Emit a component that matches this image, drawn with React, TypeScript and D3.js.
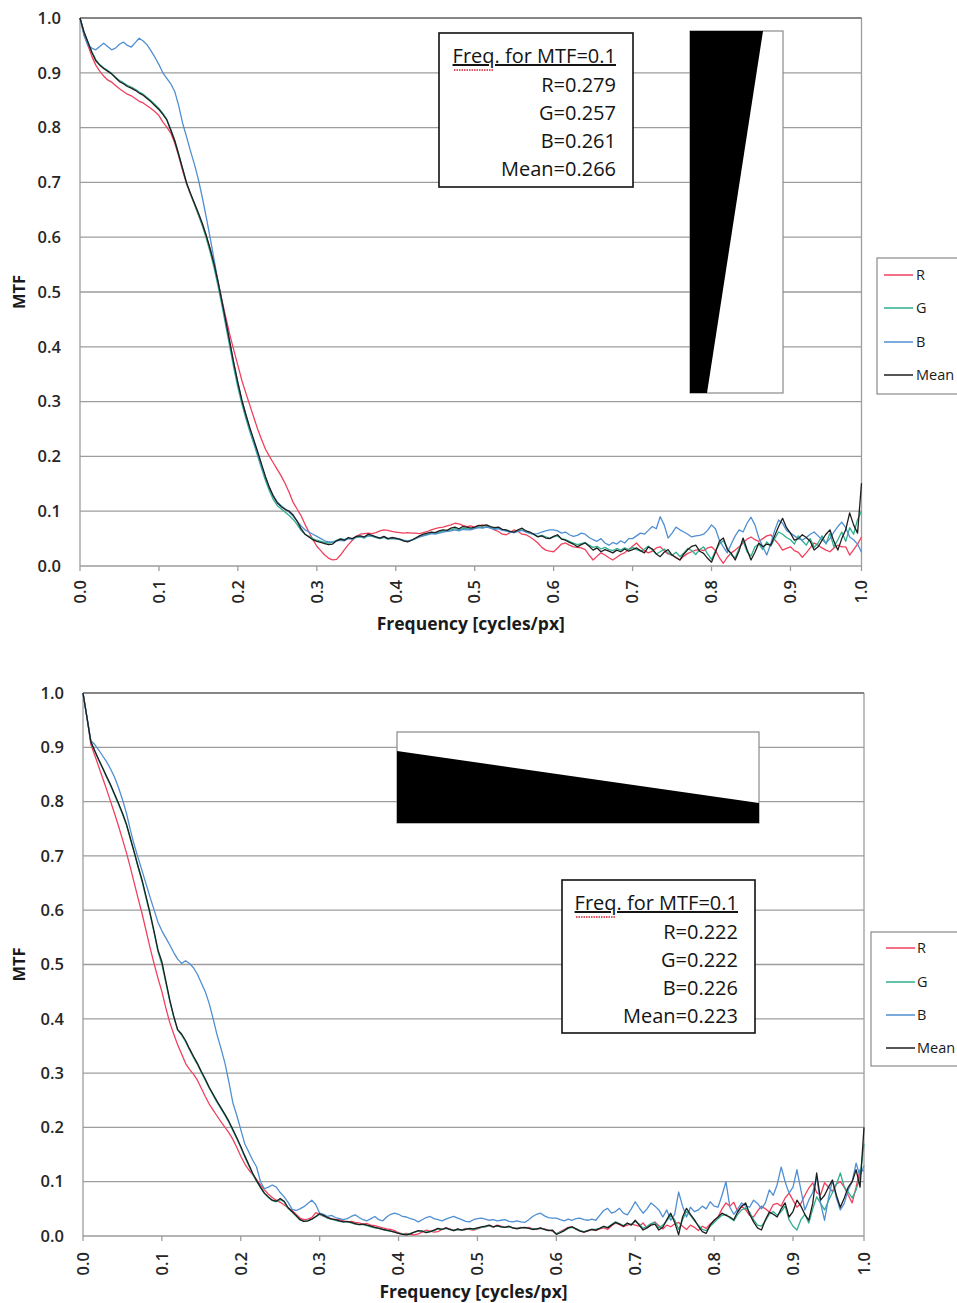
import React from 'react';
import * as d3 from 'd3';

// ---------- shared axis data ----------
const FREQ_STEP = 0.005; // cycles/px between samples
const X_MAX = 0.99;
const X_TICK_VALUES = [0, 0.1, 0.2, 0.3, 0.4, 0.5, 0.6, 0.7, 0.8, 0.9, 0.99];
const X_TICK_LABELS = ['0.0', '0.1', '0.2', '0.3', '0.4', '0.5', '0.6', '0.7', '0.8', '0.9', '1.0'];
const Y_TICK_VALUES = [0, 0.1, 0.2, 0.3, 0.4, 0.5, 0.6, 0.7, 0.8, 0.9, 1.0];
const Y_TICK_LABELS = ['0.0', '0.1', '0.2', '0.3', '0.4', '0.5', '0.6', '0.7', '0.8', '0.9', '1.0'];
const SERIES_NAMES = ['R', 'G', 'B', 'Mean'];

// ---------- top chart (MTF samples every 0.005 cycles/px) ----------
const TOP_R = [
  1.000, .972, .950, .930, .914, .903, .894, .887, .883, .877, .871, .866, .861, .858, .853, .848, .845, .840, .835, .829,
  .822, .810, .801, .790, .772, .748, .721, .697, .678, .660, .641, .622, .601, .578, .550, .517, .484, .452, .421, .393,
  .366, .339, .316, .294, .272, .250, .231, .213, .200, .188, .176, .164, .150, .134, .116, .104, .092, .076, .062, .048,
  .036, .028, .020, .014, .011, .012, .020, .030, .039, .047, .054, .058, .059, .060, .059, .061, .064, .066, .065, .063,
  .062, .061, .060, .061, .060, .060, .059, .061, .063, .066, .068, .070, .071, .073, .075, .078, .077, .074, .072, .073,
  .071, .073, .075, .073, .070, .066, .063, .058, .057, .061, .066, .063, .058, .057, .053, .048, .042, .034, .029, .027,
  .026, .033, .040, .042, .038, .035, .034, .033, .030, .020, .011, .018, .024, .020, .015, .011, .016, .021, .024, .030,
  .036, .042, .034, .028, .024, .027, .033, .035, .028, .022, .020, .016, .011, .018, .023, .026, .029, .030, .028, .033,
  .035, .028, .015, .005, .016, .024, .029, .035, .042, .049, .053, .048, .045, .050, .055, .057, .048, .040, .029, .032,
  .035, .028, .025, .016, .024, .033, .042, .038, .033, .029, .026, .033, .038, .035, .035, .020, .030, .040, .053,
];
const TOP_G = [
  1.000, .975, .957, .939, .924, .915, .909, .904, .899, .892, .886, .882, .877, .874, .870, .865, .861, .855, .849, .842,
  .835, .826, .815, .797, .777, .752, .725, .699, .679, .660, .641, .621, .598, .572, .543, .510, .474, .436, .398, .360,
  .326, .296, .270, .246, .224, .201, .178, .156, .137, .121, .110, .104, .098, .092, .085, .076, .065, .058, .054, .050,
  .047, .045, .043, .042, .043, .047, .050, .048, .051, .049, .052, .053, .051, .055, .054, .052, .050, .052, .049, .050,
  .049, .048, .046, .045, .047, .050, .053, .056, .058, .060, .060, .062, .064, .063, .066, .068, .066, .069, .068, .067,
  .069, .071, .070, .072, .070, .068, .069, .066, .064, .062, .061, .064, .066, .062, .060, .057, .054, .056, .053, .051,
  .053, .055, .050, .048, .045, .042, .039, .041, .043, .038, .034, .036, .031, .034, .030, .028, .032, .029, .033, .030,
  .034, .030, .027, .031, .036, .029, .022, .026, .031, .024, .019, .025, .017, .024, .032, .028, .021, .030, .035, .022,
  .012, .028, .040, .046, .033, .020, .015, .032, .046, .026, .018, .035, .040, .030, .044, .036, .050, .062, .058, .052,
  .048, .040, .055, .046, .038, .050, .034, .042, .055, .040, .060, .035, .048, .062, .045, .070, .058, .085, .100,
];
const TOP_B = [
  1.000, .968, .950, .945, .942, .948, .954, .948, .942, .945, .952, .956, .950, .947, .955, .963, .958, .951, .940, .928,
  .915, .900, .890, .880, .866, .840, .808, .783, .757, .733, .705, .672, .636, .598, .558, .518, .480, .442, .405, .369,
  .335, .303, .276, .251, .228, .205, .182, .161, .143, .128, .117, .110, .104, .098, .091, .082, .073, .066, .062, .058,
  .054, .050, .046, .044, .044, .046, .047, .046, .050, .049, .053, .054, .052, .056, .055, .053, .051, .053, .050, .051,
  .050, .049, .047, .046, .047, .050, .053, .055, .057, .059, .058, .060, .062, .063, .064, .066, .064, .067, .066, .066,
  .068, .070, .069, .071, .069, .067, .068, .065, .064, .062, .061, .063, .065, .062, .060, .058, .059, .062, .064, .066,
  .066, .064, .060, .062, .057, .054, .056, .060, .058, .052, .048, .045, .050, .042, .038, .043, .040, .046, .042, .050,
  .050, .055, .060, .058, .065, .072, .068, .090, .075, .051, .060, .071, .066, .062, .058, .053, .055, .056, .058, .065,
  .075, .068, .047, .035, .024, .040, .055, .066, .062, .078, .089, .075, .051, .035, .020, .040, .065, .084, .078, .065,
  .060, .055, .050, .047, .052, .058, .062, .055, .048, .042, .050, .062, .072, .080, .070, .053, .048, .040, .025,
];
const TOP_MEAN = [
  1.000, .975, .956, .937, .922, .914, .908, .903, .898, .891, .884, .880, .875, .872, .868, .863, .859, .853, .847, .840,
  .833, .824, .814, .795, .776, .751, .725, .699, .680, .662, .644, .625, .603, .578, .550, .518, .482, .445, .407, .369,
  .334, .303, .277, .253, .231, .209, .186, .163, .143, .127, .115, .108, .103, .100, .093, .082, .068, .058, .053, .048,
  .045, .043, .041, .039, .040, .046, .049, .047, .052, .050, .054, .055, .053, .058, .056, .053, .051, .054, .050, .052,
  .051, .049, .046, .044, .047, .051, .055, .058, .060, .062, .061, .064, .066, .065, .069, .071, .068, .072, .071, .069,
  .071, .074, .073, .075, .072, .070, .071, .067, .066, .063, .062, .066, .069, .064, .062, .058, .053, .055, .051, .050,
  .054, .057, .049, .047, .043, .040, .035, .039, .042, .036, .029, .033, .026, .030, .027, .024, .029, .026, .031, .027,
  .030, .033, .028, .024, .035, .031, .022, .017, .025, .030, .020, .015, .011, .022, .030, .036, .038, .027, .023, .014,
  .007, .025, .045, .051, .030, .023, .011, .028, .051, .030, .011, .025, .042, .035, .040, .038, .055, .072, .087, .070,
  .060, .047, .050, .057, .052, .045, .029, .035, .047, .058, .066, .045, .029, .050, .066, .097, .075, .060, .151,
];
const TOP_INFO = ['R=0.279', 'G=0.257', 'B=0.261', 'Mean=0.266'];

// ---------- bottom chart ----------
const BOT_R = [
  1.000, .955, .905, .885, .864, .843, .822, .800, .778, .755, .731, .706, .679, .650, .621, .593, .562, .531, .502, .475,
  .450, .420, .393, .372, .352, .335, .318, .307, .298, .287, .272, .257, .243, .232, .221, .210, .200, .190, .178, .163,
  .147, .133, .122, .113, .104, .094, .085, .077, .071, .066, .062, .057, .052, .047, .040, .033, .030, .031, .034, .043,
  .040, .036, .034, .032, .030, .030, .028, .026, .027, .025, .024, .022, .023, .020, .019, .017, .015, .013, .012, .010,
  .006, .004, .005, .003, .002, .004, .007, .011, .009, .007, .008, .012, .015, .013, .010, .012, .011, .014, .012, .011,
  .013, .016, .017, .019, .016, .020, .018, .016, .017, .015, .014, .016, .015, .016, .013, .012, .014, .013, .011, .009,
  .004, .008, .012, .016, .017, .012, .010, .007, .009, .012, .010, .013, .015, .012, .019, .024, .021, .017, .020, .022,
  .020, .018, .024, .015, .022, .026, .019, .013, .020, .017, .022, .025, .018, .012, .020, .016, .010, .018, .014, .022,
  .028, .035, .050, .061, .055, .062, .044, .055, .048, .038, .035, .046, .055, .050, .044, .058, .060, .055, .070, .079,
  .066, .053, .060, .075, .088, .098, .080, .076, .098, .090, .082, .096, .100, .090, .075, .061, .090, .122, .120,
];
const BOT_G = [
  1.000, .955, .910, .893, .876, .861, .845, .829, .812, .795, .777, .757, .731, .705, .678, .652, .622, .592, .559, .524,
  .500, .466, .432, .403, .379, .370, .358, .343, .329, .316, .301, .287, .272, .259, .246, .234, .222, .209, .194, .179,
  .163, .146, .130, .114, .101, .089, .078, .071, .065, .063, .067, .063, .051, .044, .037, .030, .027, .028, .031, .035,
  .040, .037, .033, .031, .029, .027, .026, .026, .024, .022, .021, .021, .019, .017, .015, .014, .012, .010, .009, .007,
  .005, .004, .003, .005, .007, .009, .009, .007, .008, .010, .013, .012, .014, .012, .011, .012, .011, .013, .013, .012,
  .014, .016, .017, .019, .017, .018, .017, .016, .017, .015, .014, .015, .015, .014, .013, .013, .014, .012, .011, .010,
  .004, .007, .010, .014, .016, .013, .010, .008, .010, .012, .012, .014, .017, .016, .021, .026, .023, .019, .023, .021,
  .027, .022, .014, .018, .023, .025, .015, .020, .028, .038, .030, .012, .030, .045, .038, .028, .020, .012, .010, .018,
  .025, .032, .038, .040, .033, .028, .040, .048, .052, .044, .030, .020, .018, .028, .040, .045, .038, .045, .055, .030,
  .018, .011, .030, .040, .024, .050, .072, .060, .048, .065, .080, .095, .116, .090, .081, .070, .085, .110, .170,
];
const BOT_B = [
  1.000, .955, .912, .905, .895, .884, .873, .860, .845, .826, .804, .779, .748, .720, .696, .672, .648, .624, .601, .578,
  .562, .549, .536, .522, .510, .502, .507, .502, .494, .482, .466, .450, .428, .400, .370, .345, .318, .283, .245, .222,
  .196, .170, .155, .140, .127, .100, .087, .090, .094, .090, .080, .072, .062, .049, .047, .050, .054, .060, .066, .058,
  .042, .040, .036, .038, .034, .032, .030, .032, .036, .039, .034, .030, .028, .032, .036, .030, .028, .035, .040, .042,
  .040, .036, .035, .032, .030, .026, .030, .034, .036, .032, .030, .028, .031, .034, .036, .033, .030, .027, .026, .030,
  .032, .033, .031, .029, .030, .028, .029, .030, .027, .026, .028, .026, .025, .030, .036, .040, .042, .037, .034, .033,
  .033, .030, .028, .031, .029, .032, .033, .030, .029, .031, .029, .038, .047, .051, .042, .045, .051, .042, .039, .050,
  .063, .052, .042, .050, .061, .055, .048, .035, .048, .029, .040, .081, .055, .035, .053, .045, .048, .055, .050, .063,
  .055, .053, .075, .100, .053, .040, .050, .061, .055, .053, .066, .060, .050, .061, .085, .075, .095, .127, .100, .079,
  .090, .122, .085, .048, .066, .080, .109, .060, .029, .070, .103, .070, .048, .060, .085, .100, .134, .110, .130,
];
const BOT_MEAN = [
  1.000, .955, .910, .893, .877, .862, .846, .831, .814, .797, .779, .759, .733, .707, .680, .655, .625, .595, .562, .527,
  .505, .470, .435, .405, .380, .372, .360, .345, .331, .318, .303, .289, .274, .261, .248, .236, .224, .211, .196, .181,
  .165, .148, .132, .116, .102, .090, .079, .072, .066, .064, .069, .064, .052, .045, .038, .030, .027, .028, .031, .036,
  .041, .038, .034, .031, .030, .028, .026, .027, .025, .023, .021, .022, .020, .018, .016, .014, .012, .011, .009, .007,
  .005, .003, .002, .004, .007, .010, .009, .006, .008, .011, .014, .012, .015, .012, .010, .013, .011, .012, .014, .013,
  .015, .017, .018, .020, .017, .019, .017, .016, .018, .015, .013, .015, .016, .014, .012, .013, .015, .012, .010, .011,
  .003, .006, .010, .015, .017, .013, .009, .007, .010, .012, .011, .014, .018, .015, .020, .025, .022, .018, .024, .020,
  .029, .020, .011, .015, .020, .022, .011, .016, .030, .042, .025, .002, .035, .051, .040, .030, .018, .008, .005, .020,
  .029, .035, .042, .038, .035, .030, .045, .055, .061, .040, .026, .015, .011, .030, .044, .040, .035, .050, .061, .035,
  .045, .066, .055, .040, .029, .060, .116, .066, .075, .090, .103, .075, .053, .070, .090, .100, .122, .090, .200,
];
const BOT_INFO = ['R=0.222', 'G=0.222', 'B=0.226', 'Mean=0.223'];
const INFO_TITLE = 'Freq. for MTF=0.1';

// ---------- styles ----------
const COLORS: Record<string, string> = { R: '#f0405e', G: '#2fae8e', B: '#4f8fd2', Mean: '#1e1e1e' };
const FONT = '"Open Sans", "DejaVu Sans", sans-serif';
const GRID = '#9d9d9d';

type Box = { left: number; right: number; top: number; bottom: number };

function MtfChart(props: {
  series: Record<string, number[]>;
  box: Box;
  info: string[];
  infoBox: { x: number; y: number; w: number; h: number };
  wedgeBox: { x: number; y: number; w: number; h: number };
  wedgePoly: [number, number][];
  legend: { x: number; y: number; h: number; lineX: number; textX: number; rows: number[] };
  tickLabelGap: number;
  titleY: number;
}) {
  const { series, box, info, infoBox, wedgeBox, wedgePoly, legend, tickLabelGap, titleY } = props;
  const x = d3.scaleLinear().domain([0, X_MAX]).range([box.left, box.right]);
  const y = d3.scaleLinear().domain([0, 1]).range([box.bottom, box.top]);
  const line = d3
    .line<number>()
    .x((_, i) => x(i * FREQ_STEP))
    .y((d) => y(d));
  const midY = (box.top + box.bottom) / 2;
  const midX = (box.left + box.right) / 2;
  const infoRight = infoBox.x + infoBox.w - 17;
  return (
    <g>
      {/* gridlines */}
      {Y_TICK_VALUES.map((v) => (
        <line key={'g' + v} x1={box.left} x2={box.right} y1={y(v)} y2={y(v)} stroke={GRID} strokeWidth={1.3} />
      ))}
      <line x1={box.left} x2={box.left} y1={box.top} y2={box.bottom} stroke={GRID} strokeWidth={1.3} />
      <line x1={box.right} x2={box.right} y1={box.top} y2={box.bottom} stroke={GRID} strokeWidth={1.3} />
      <line x1={box.left} x2={box.right} y1={box.top} y2={box.top} stroke="#777" strokeWidth={1.3} />
      {/* x ticks */}
      {X_TICK_VALUES.map((v) => (
        <line key={'t' + v} x1={x(v)} x2={x(v)} y1={box.bottom} y2={box.bottom + 5} stroke={GRID} strokeWidth={1.3} />
      ))}
      {/* y labels */}
      {Y_TICK_VALUES.map((v, i) => (
        <text key={'yl' + v} x={box.left - 19} y={y(v)} dy="0.35em" textAnchor="end" fontSize={16.5} fontWeight={600} fill="#262626">
          {Y_TICK_LABELS[i]}
        </text>
      ))}
      {/* x labels, rotated */}
      {X_TICK_VALUES.map((v, i) => (
        <text
          key={'xl' + v}
          transform={`translate(${x(v)},${box.bottom + tickLabelGap}) rotate(-90)`}
          dy="0.35em"
          textAnchor="end"
          fontSize={16.5}
          fontWeight={600}
          fill="#262626"
        >
          {X_TICK_LABELS[i]}
        </text>
      ))}
      <text x={midX} y={titleY} textAnchor="middle" fontSize={17.5} fontWeight={700} fill="#1a1a1a">
        Frequency [cycles/px]
      </text>
      <text transform={`translate(19,${midY}) rotate(-90)`} dy="0.35em" textAnchor="middle" fontSize={16.5} fontWeight={700} fill="#1a1a1a">
        MTF
      </text>

      {/* wedge image */}
      <rect x={wedgeBox.x} y={wedgeBox.y} width={wedgeBox.w} height={wedgeBox.h} fill="#fff" stroke="#8a8a8a" strokeWidth={1.2} />
      <polygon points={wedgePoly.map((p) => p.join(',')).join(' ')} fill="#000" />

      {/* info box */}
      <rect x={infoBox.x} y={infoBox.y} width={infoBox.w} height={infoBox.h} fill="#fff" stroke="#111" strokeWidth={1.6} />
      <text x={infoRight} y={infoBox.y + 30} textAnchor="end" fontSize={20} fill="#141414" style={{ textDecoration: 'underline' }}>
        {INFO_TITLE}
      </text>
      <line
        x1={infoRight - 162}
        x2={infoRight - 122}
        y1={infoBox.y + 37}
        y2={infoBox.y + 37}
        stroke="#d42030"
        strokeWidth={1.3}
        strokeDasharray="1.5 1"
      />
      {info.map((t, i) => (
        <text key={t} x={infoRight} y={infoBox.y + 59 + i * 28} textAnchor="end" fontSize={20} fill="#141414">
          {t}
        </text>
      ))}

      {/* data lines */}
      {SERIES_NAMES.map((name) => (
        <path key={name} d={line(series[name]) || ''} fill="none" stroke={COLORS[name]} strokeWidth={1.3} strokeLinejoin="round" />
      ))}

      {/* legend */}
      <rect x={legend.x} y={legend.y} width={120} height={legend.h} fill="#fff" stroke="#8a8a8a" strokeWidth={1.2} />
      {SERIES_NAMES.map((name, i) => (
        <g key={'lg' + name}>
          <line x1={legend.lineX} x2={legend.lineX + 29} y1={legend.rows[i]} y2={legend.rows[i]} stroke={COLORS[name]} strokeWidth={1.5} />
          <text x={legend.textX} y={legend.rows[i]} dy="0.36em" fontSize={14.5} fill="#1a1a1a">
            {name}
          </text>
        </g>
      ))}
    </g>
  );
}

export default function App() {
  const top = { R: TOP_R, G: TOP_G, B: TOP_B, Mean: TOP_MEAN };
  const bot = { R: BOT_R, G: BOT_G, B: BOT_B, Mean: BOT_MEAN };
  return (
    <svg
      width={957}
      height={1303}
      viewBox="0 0 957 1303"
      style={{ position: 'absolute', left: 0, top: 0, background: '#fff', fontFamily: FONT }}
    >
      <rect x={0} y={0} width={957} height={1303} fill="#fff" />
      <MtfChart
        series={top}
        box={{ left: 80, right: 861.5, top: 18, bottom: 566 }}
        info={TOP_INFO}
        infoBox={{ x: 439, y: 33, w: 194, h: 154 }}
        wedgeBox={{ x: 690, y: 31, w: 93, h: 362 }}
        wedgePoly={[[690, 31], [763, 31], [707, 393], [690, 393]]}
        legend={{ x: 877, y: 258, h: 136, lineX: 884, textX: 916, rows: [275, 308, 342, 375] }}
        tickLabelGap={14}
        titleY={630}
      />
      <MtfChart
        series={bot}
        box={{ left: 83, right: 864, top: 693, bottom: 1236 }}
        info={BOT_INFO}
        infoBox={{ x: 562, y: 880, w: 193, h: 153 }}
        wedgeBox={{ x: 397, y: 732, w: 362, h: 91 }}
        wedgePoly={[[397, 751], [759, 803], [759, 823], [397, 823]]}
        legend={{ x: 871, y: 932, h: 134, lineX: 886, textX: 917, rows: [948, 982, 1015, 1048] }}
        tickLabelGap={16}
        titleY={1298}
      />
    </svg>
  );
}
